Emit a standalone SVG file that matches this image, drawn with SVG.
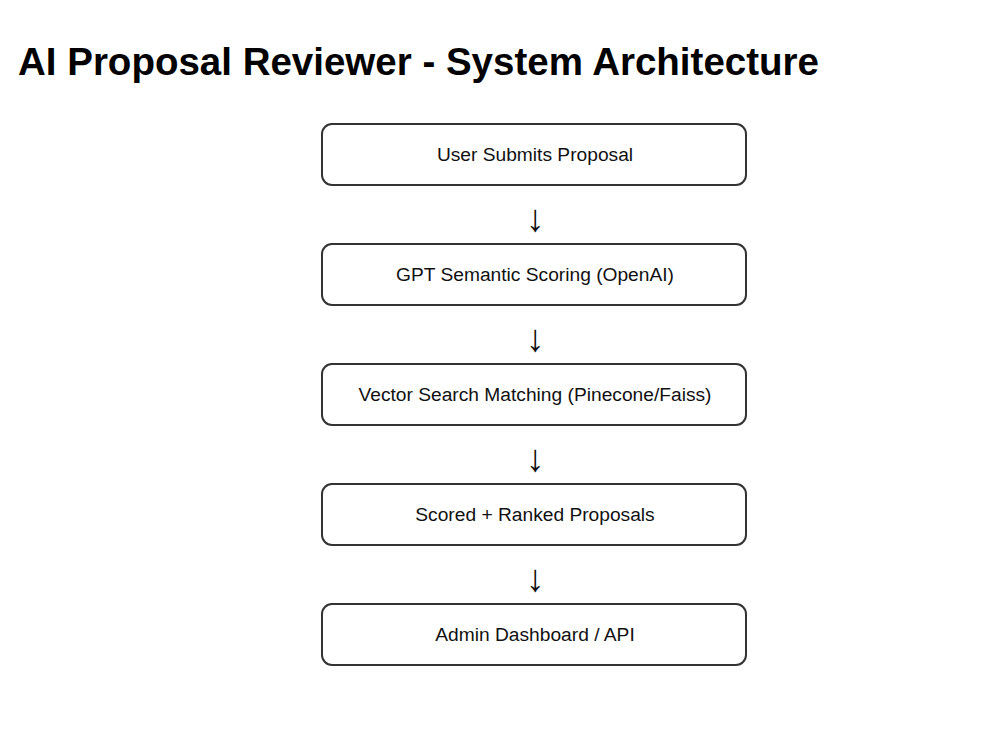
<svg xmlns="http://www.w3.org/2000/svg" width="1000" height="750" viewBox="0 0 1000 750">
<style>
.box{fill:#fff;stroke:#333;stroke-width:2}
.lbl{font-family:"Liberation Sans",Arial,sans-serif;font-size:19.2px;fill:#111;text-anchor:middle}
.arr{font-family:"Liberation Sans","DejaVu Sans",sans-serif;font-size:38px;fill:#111;text-anchor:middle}
.title{font-family:"Liberation Sans",Arial,sans-serif;font-size:38.5px;font-weight:bold;fill:#000}
</style>
<rect width="1000" height="750" fill="#fff"/>
<text class="title" x="18" y="75">AI Proposal Reviewer - System Architecture</text>
<g id="n1"><rect class="box" x="322" y="124" width="424" height="61" rx="10"/><text class="lbl" x="535" y="161">User Submits Proposal</text></g>
<g id="n2"><rect class="box" x="322" y="244" width="424" height="61" rx="10"/><text class="lbl" x="535" y="281">GPT Semantic Scoring (OpenAI)</text></g>
<g id="n3"><rect class="box" x="322" y="364" width="424" height="61" rx="10"/><text class="lbl" x="535" y="401">Vector Search Matching (Pinecone/Faiss)</text></g>
<g id="n4"><rect class="box" x="322" y="484" width="424" height="61" rx="10"/><text class="lbl" x="535" y="521">Scored + Ranked Proposals</text></g>
<g id="n5"><rect class="box" x="322" y="604" width="424" height="61" rx="10"/><text class="lbl" x="535" y="641">Admin Dashboard / API</text></g>
<g id="connectors">
<text class="arr" x="535" y="231">↓</text>
<text class="arr" x="535" y="351">↓</text>
<text class="arr" x="535" y="471">↓</text>
<text class="arr" x="535" y="591">↓</text>
</g>
</svg>
